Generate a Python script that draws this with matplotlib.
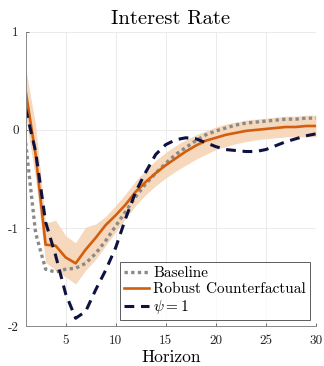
import matplotlib
matplotlib.use('Agg')
import matplotlib.pyplot as plt

plt.rcParams['font.family'] = ['cmr10', 'DejaVu Serif']
plt.rcParams['mathtext.fontset'] = 'cm'
plt.rcParams['axes.unicode_minus'] = False

horizon = list(range(1, 31))

baseline = [-0.13, -1.05, -1.42, -1.45, -1.42, -1.41, -1.36, -1.26, -1.13, -0.98,
            -0.83, -0.68, -0.55, -0.44, -0.34, -0.25, -0.18, -0.11, -0.05, -0.01,
            0.02, 0.05, 0.07, 0.08, 0.09, 0.10, 0.11, 0.11, 0.12, 0.12]

robust = [0.40, -0.25, -1.17, -1.18, -1.30, -1.36, -1.22, -1.10, -0.97, -0.87,
          -0.76, -0.63, -0.53, -0.44, -0.36, -0.29, -0.22, -0.16, -0.11, -0.08,
          -0.05, -0.03, -0.01, 0.00, 0.01, 0.02, 0.03, 0.03, 0.04, 0.04]

robust_upper = [0.63, 0.05, -0.95, -0.92, -1.08, -1.15, -0.99, -0.96, -0.88, -0.77,
                -0.65, -0.52, -0.41, -0.31, -0.23, -0.16, -0.10, -0.05, -0.01, 0.03,
                0.06, 0.08, 0.10, 0.11, 0.12, 0.13, 0.14, 0.14, 0.15, 0.15]

robust_lower = [0.15, -0.50, -1.35, -1.43, -1.50, -1.57, -1.43, -1.32, -1.18, -1.04,
                -0.90, -0.77, -0.66, -0.57, -0.49, -0.42, -0.36, -0.30, -0.25, -0.20,
                -0.17, -0.14, -0.12, -0.10, -0.09, -0.08, -0.07, -0.07, -0.07, -0.07]

psi_one = [0.22, -0.22, -0.94, -1.28, -1.67, -1.92, -1.85, -1.63, -1.43, -1.20,
           -0.90, -0.63, -0.43, -0.25, -0.15, -0.10, -0.08, -0.09, -0.13, -0.17,
           -0.20, -0.21, -0.22, -0.22, -0.20, -0.16, -0.12, -0.09, -0.06, -0.04]

xticks = [5, 10, 15, 20, 25, 30]
yticks = [-2, -1, 0, 1]
ytick_labels = ['-2', '-1', '0', '1']

fig = plt.figure(figsize=(3.24, 3.66), dpi=100)
ax = fig.add_axes([0.079, 0.109, 0.896, 0.804])

ax.fill_between(horizon, robust_lower, robust_upper, color='#F6D8BC', linewidth=0)
ax.plot(horizon, baseline, linestyle=(0, (1, 1)), color='#8A8A8A', linewidth=2.4,
        label='Baseline')
ax.plot(horizon, robust, color='#D35F0E', linewidth=1.9, label='Robust Counterfactual')
ax.plot(horizon, psi_one, linestyle=(0, (3.2, 2.2)), color='#0E1240', linewidth=2.2,
        label=r'$\psi = 1$')

ax.set_xlim(1, 30)
ax.set_ylim(-2, 1)
ax.set_xticks(xticks)
ax.set_yticks(yticks)
ax.set_yticklabels(ytick_labels)
ax.tick_params(direction='in', length=2.5, width=0.6, colors='#555555',
               labelcolor='#222222', labelsize=9.5)
ax.tick_params(axis='x', pad=6)
ax.tick_params(axis='y', pad=5)
ax.grid(True, color='#E8E8E8', linewidth=0.6)
ax.set_axisbelow(True)
for side in ['top', 'right']:
    ax.spines[side].set_visible(False)
for side in ['left', 'bottom']:
    ax.spines[side].set_color('#888888')
    ax.spines[side].set_linewidth(0.7)

ax.set_title('Interest Rate', fontsize=14.8, pad=6)
ax.set_xlabel('Horizon', fontsize=12.5, labelpad=2)

leg = ax.legend(loc='lower right', fontsize=11, frameon=True, fancybox=False,
                handlelength=1.6, handletextpad=0.3, borderpad=0.25,
                labelspacing=0.15, borderaxespad=0.4)
leg.get_frame().set_edgecolor('#333333')
leg.get_frame().set_linewidth(0.7)

fig.savefig('out.png', dpi=100)
